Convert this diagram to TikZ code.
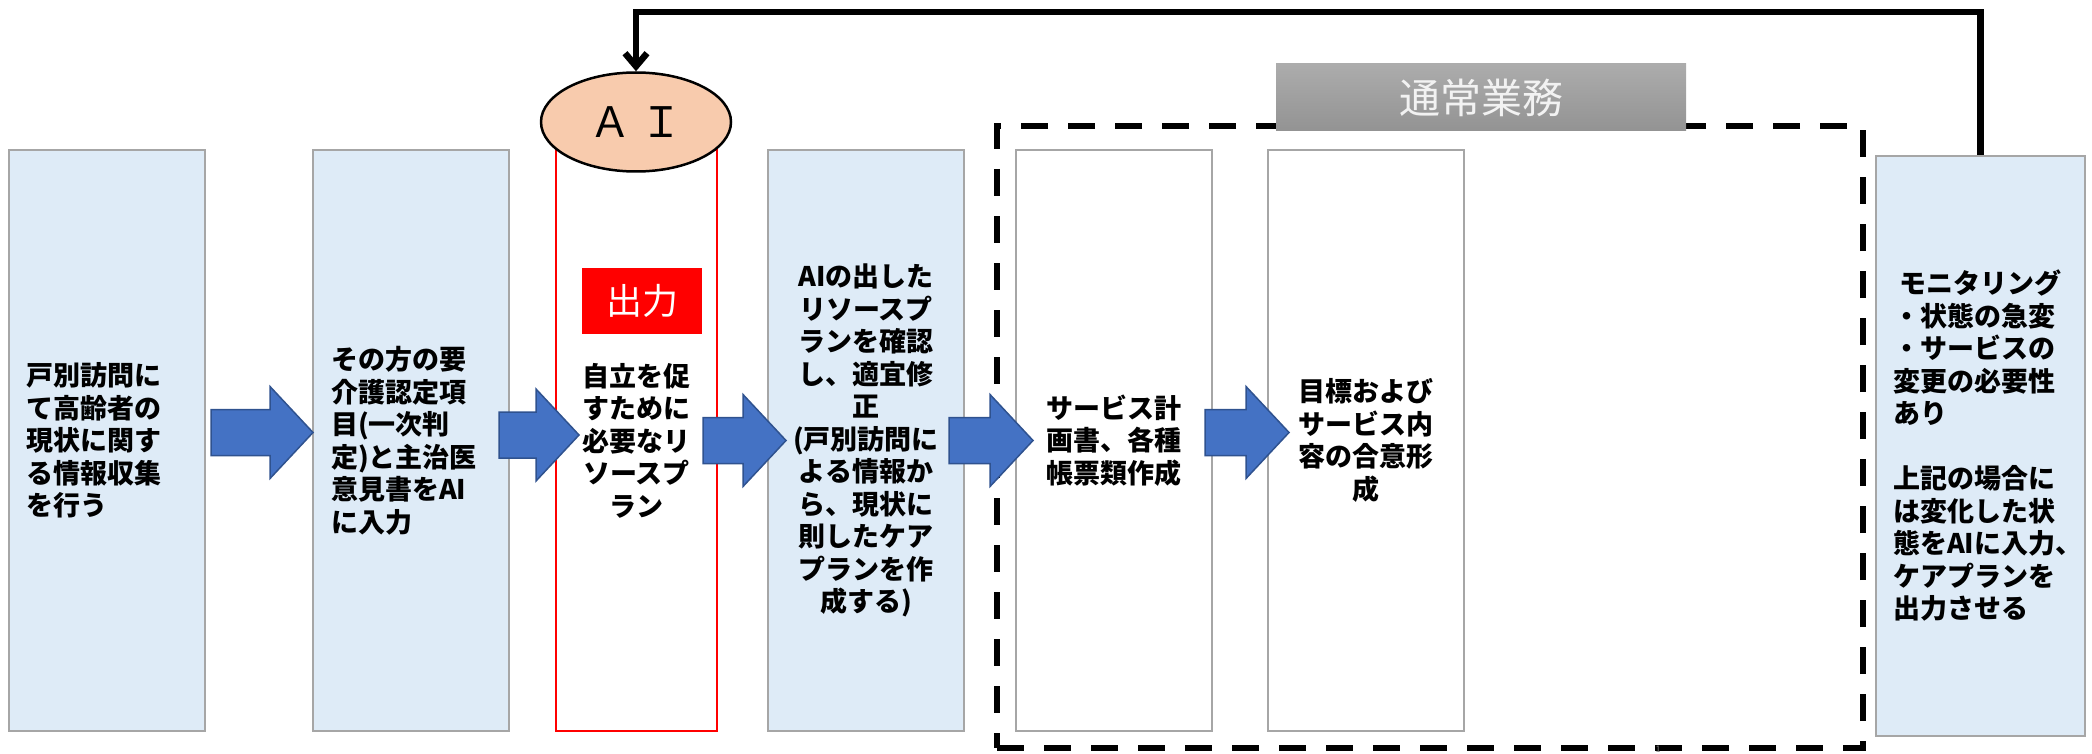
\documentclass[tikz,border=0pt]{standalone}
\usepackage{fontspec}
\setmainfont{Noto Sans CJK JP}
\usetikzlibrary{calc,arrows.meta,shapes.geometric}

\definecolor{boxblue}{HTML}{DEEBF7}
\definecolor{boxgray}{HTML}{A6A6A6}
\definecolor{arrowblue}{HTML}{4472C4}
\definecolor{arrowedge}{HTML}{2F528F}
\definecolor{aiorange}{HTML}{F8CBAD}
\definecolor{headtop}{HTML}{ACACAC}
\definecolor{headbot}{HTML}{939393}
\definecolor{headtext}{HTML}{F2F2F2}

\tikzset{
  stepbox/.style={draw=boxgray, line width=2pt, minimum width=196pt,
    minimum height=581pt, inner sep=0pt,
    font=\fontsize{27}{32.5}\selectfont\bfseries},
  bluebox/.style={stepbox, fill=boxblue},
  whitebox/.style={stepbox, fill=white},
  flowarrow/.style={fill=arrowblue, draw=arrowedge, line width=1.5pt},
  feedback/.style={line width=6.5pt, -{Straight Barb[length=13pt,width=22pt]}},
  routine/.style={draw, line width=6.5pt, dash pattern=on 27pt off 20pt,
    minimum width=866pt, minimum height=622pt},
}

% block arrow between two points
\newcommand{\blockarrow}[2]{%
  \filldraw[flowarrow] let \p1=(#1), \p2=(#2) in
    ({\x1},{\y1+23pt}) -- ({\x2-43pt},{\y1+23pt}) -- ({\x2-43pt},{\y1+46pt})
    -- ({\x2},{\y1}) -- ({\x2-43pt},{\y1-46pt}) -- ({\x2-43pt},{\y1-23pt})
    -- ({\x1},{\y1-23pt}) -- cycle;}

\begin{document}
\begin{tikzpicture}[x=1pt,y=-1pt]
    \useasboundingbox (0,0) rectangle (2092,754);
    % routine work frame
    \node[routine] (frame) at (1430,437) {};
    \node[bluebox, text width=162pt, align=left] (info) at (107,440.5)
      {戸別訪問に\\て高齢者の\\現状に関す\\る情報収集\\を行う};
    \node[bluebox, text width=160pt, align=left] (input) at (411,440.5)
      {その方の要\\介護認定項\\目(一次判\\定)と主治医\\意見書をAI\\に入力};
    \node[stepbox, draw=red, minimum width=161pt, align=center] (plan) at (636.5,440.5)
      {自立を促\\すために\\必要なリ\\ソースプ\\ラン};
    \node[fill=red, text=white, minimum width=120pt, minimum height=66pt,
      inner sep=0pt, font=\fontsize{36}{36}\selectfont] (outlabel) at (642,301) {出力};
    \node[ellipse, draw, fill=aiorange, line width=2.5pt, minimum width=190pt,
      minimum height=99pt, inner sep=0pt, font=\fontsize{42}{42}\selectfont] (ai) at (636,122) {Ａ Ｉ};
    \node[bluebox, align=center] (check) at (866,440.5)
      {AIの出した\\リソースプ\\ランを確認\\し、適宜修\\正\\(戸別訪問に\\よる情報か\\ら、現状に\\則したケア\\プランを作\\成する)};
    \node[whitebox, align=center] (sheets) at (1114,440.5)
      {サービス計\\画書、各種\\帳票類作成};
    \node[whitebox, align=center] (agree) at (1366,440.5)
      {目標および\\サービス内\\容の合意形\\成};
    \node[top color=headtop, bottom color=headbot, text=headtext, minimum width=410pt,
      minimum height=67pt, inner sep=0pt, font=\fontsize{41}{41}\selectfont] (framehead) at (1481,97.5) {通常業務};
    \node[bluebox, minimum width=209pt, minimum height=580pt, text width=175pt, align=left] (monitor) at (1980.5,446)
      {\hspace*{6pt}モニタリング\\・状態の急変\\・サービスの\\変更の必要性\\あり\\[32.5pt]上記の場合に\\は変化した状\\態をAIに入力、\\ケアプランを\\出力させる};
    \node[text=gray, inner sep=0pt, font=\fontsize{9}{9}\selectfont] (pageno) at (1658,749) {1};
    % flow
    \blockarrow{$(info.east)+(5,-8)$}{$(input.west)+(1,-8)$}
    \blockarrow{$(input.east)+(-11,-5.5)$}{$(plan.west)+(24,-5.5)$}
    \blockarrow{$(plan.east)+(-15,0)$}{$(check.west)+(19,0)$}
    \blockarrow{$(check.east)+(-16,0)$}{$(sheets.west)+(18,0)$}
    \blockarrow{$(sheets.east)+(-8,-8)$}{$(agree.west)+(22,-8)$}
    \draw[feedback] (monitor.north) -- ++(0,-143) -| (ai.north);
  \end{tikzpicture}
\end{document}
